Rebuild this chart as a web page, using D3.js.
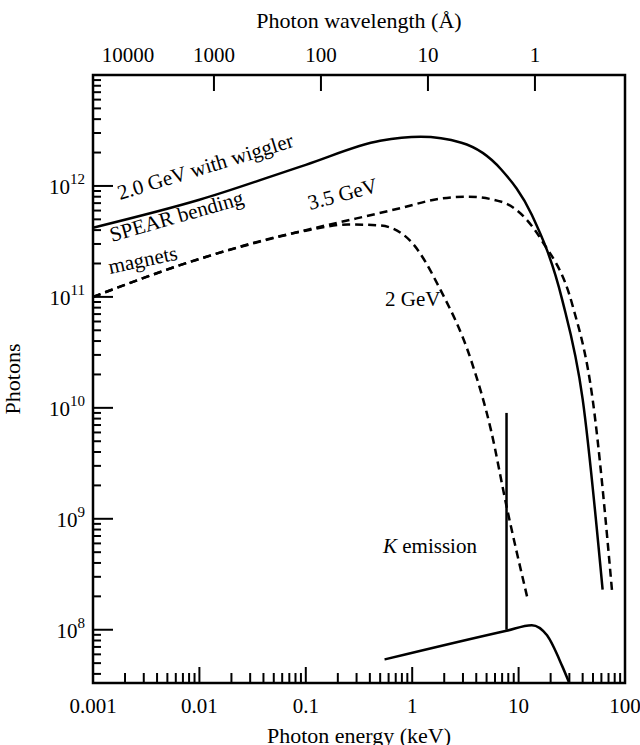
<!DOCTYPE html>
<html><head><meta charset="utf-8">
<script src="https://cdn.jsdelivr.net/npm/d3@7.9.0/dist/d3.min.js"></script>
<style>
body { margin:0; background:#fff; }
text { font-family: "Liberation Serif", serif; fill:#000; }
</style></head>
<body><svg width="640" height="745"></svg>
<script>
// energy (keV), photons
const wiggler = [[0.001,4.2e11],[0.01,7.5e11],[0.1,1.55e12],[0.5,2.55e12],[1.2,2.77e12],[2.9,2.45e12],[6.9,1.4e12],[13.3,5.5e11],[25.7,9.4e10],[40,1.2e10],[61.6,2.3e8]];
const gev35 = [[0.001,1e11],[0.01,2.2e11],[0.1,4e11],[0.3,5.1e11],[0.77,6.3e11],[1.85,7.7e11],[3.3,8e11],[6.9,7.2e11],[16.6,3.2e11],[32,8.5e10],[49.6,1.2e10],[76,2.1e8]];
const gev2 = [[0.001,1e11],[0.01,2.2e11],[0.1,3.95e11],[0.25,4.5e11],[0.5,4.4e11],[0.96,3.2e11],[1.85,1.15e11],[3.57,2.7e10],[5.5,6.3e9],[7.7,1.3e9],[12,2e8]];
const kLine = [[7.7,9e9],[7.7,1e8]];
const kCurve = [[0.55,5.4e7],[7.7,9.8e7],[13.3,1.1e8],[18.5,8.9e7],[25.7,4.7e7],[30,3.3e7]];
const energyTicks = [0.001,0.01,0.1,1,10,100];
const energyLabels = ["0.001","0.01","0.1","1","10","100"];
const wlTicks = [10000,1000,100,10,1];
const photonExps = [8,9,10,11,12];

const svg = d3.select("svg");
const L = 93, R = 625, T = 75, B = 683;
const x = d3.scaleLog().domain([0.001,100]).range([L,R]);
const y = d3.scaleLog().domain([10**7.52,1e13]).range([B,T]);
const xt = d3.scaleLog().domain([13500,0.144]).range([L,R]);

svg.append("rect").attr("x",L).attr("y",T).attr("width",R-L).attr("height",B-T)
  .attr("fill","none").attr("stroke","#000").attr("stroke-width",2.5);

// bottom ticks (inward)
const minorE = [];
for (let d=-3; d<2; d++) for (let k=1;k<10;k++) minorE.push(k*10**d);
svg.append("g").selectAll("line").data(minorE).join("line")
  .attr("x1",d=>x(d)).attr("x2",d=>x(d)).attr("y1",B)
  .attr("y2",d=>B-(Math.abs(Math.log10(d)-Math.round(Math.log10(d)))<1e-6?16:10))
  .attr("stroke","#000").attr("stroke-width",2);
svg.append("g").selectAll("text").data(energyTicks).join("text")
  .attr("x",d=>x(d)).attr("y",B+30).attr("text-anchor","middle").attr("font-size",21)
  .text((d,i)=>energyLabels[i]);

// top ticks
svg.append("g").selectAll("line").data(wlTicks.slice(1)).join("line")
  .attr("x1",d=>xt(d)).attr("x2",d=>xt(d)).attr("y1",T).attr("y2",T+16)
  .attr("stroke","#000").attr("stroke-width",2);
svg.append("g").selectAll("text").data(wlTicks).join("text")
  .attr("x",d=>d===10000?128:xt(d)).attr("y",T-13).attr("text-anchor","middle").attr("font-size",21)
  .text(d=>d);

// left ticks
const minorP = [];
for (let d=7; d<13; d++) for (let k=1;k<10;k++) { const v=k*10**d; if (v>=y.domain()[0]) minorP.push(v); }
svg.append("g").selectAll("line").data(minorP).join("line")
  .attr("y1",d=>y(d)).attr("y2",d=>y(d)).attr("x1",L)
  .attr("x2",d=>L+(Math.abs(Math.log10(d)-Math.round(Math.log10(d)))<1e-6?20:8))
  .attr("stroke","#000").attr("stroke-width",2);
const yl = svg.append("g").selectAll("text").data(photonExps).join("text")
  .attr("x",L-8).attr("y",d=>y(10**d)+8).attr("text-anchor","end").attr("font-size",21);
yl.append("tspan").text("10");
yl.append("tspan").attr("dy",-10).attr("font-size",15).text(d=>d);

// axis titles
svg.append("text").attr("x",(L+R)/2).attr("y",B+60).attr("text-anchor","middle").attr("font-size",22).text("Photon energy (keV)");
svg.append("text").attr("x",(L+R)/2).attr("y",28).attr("text-anchor","middle").attr("font-size",22).text("Photon wavelength (Å)");
svg.append("text").attr("transform",`translate(20,${(T+B)/2}) rotate(-90)`).attr("text-anchor","middle").attr("font-size",22).text("Photons");

// curves
const line = d3.line().x(d=>x(d[0])).y(d=>y(d[1])).curve(d3.curveMonotoneX);
const lineV = d3.line().x(d=>x(d[0])).y(d=>y(d[1]));
const g = svg.append("g").attr("fill","none").attr("stroke","#000").attr("stroke-width",2.5);
g.append("path").attr("d",line(wiggler));
g.append("path").attr("d",line(gev35)).attr("stroke-dasharray","8,5");
g.append("path").attr("d",line(gev2)).attr("stroke-dasharray","8,5");
g.append("path").attr("d",lineV(kLine));
g.append("path").attr("d",line(kCurve));

// labels
const lab = (t,xx,yy,rot) => svg.append("text").attr("transform",`translate(${xx},${yy}) rotate(${rot})`).attr("font-size",21).text(t);
lab("2.0 GeV with wiggler",120,200,-17);
lab("SPEAR bending",112,242,-16);
lab("magnets",110,274,-12);
lab("3.5 GeV",310,210,-15);
lab("2 GeV",385,306,0);
const k = svg.append("text").attr("x",383).attr("y",553).attr("font-size",21);
k.append("tspan").attr("font-style","italic").text("K");
k.append("tspan").text(" emission");
</script></body></html>
